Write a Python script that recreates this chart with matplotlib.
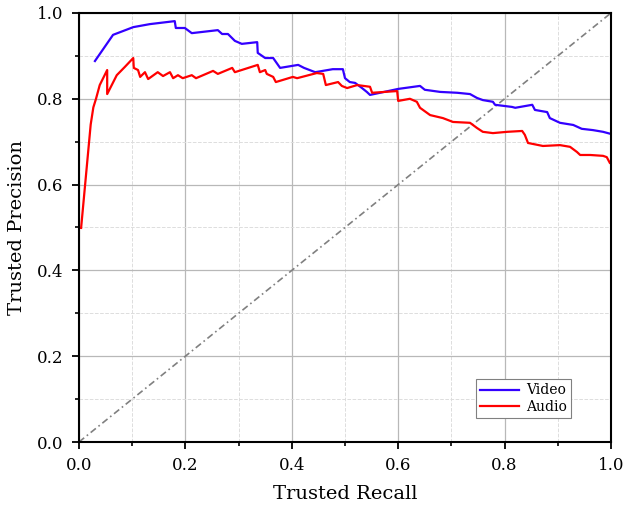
import matplotlib
matplotlib.use('Agg')
import matplotlib.pyplot as plt
from matplotlib.ticker import MultipleLocator

plt.rcParams['font.family'] = ['DejaVu Serif']

# video curve (recall, precision)
video_r = [0.030, 0.064, 0.102, 0.133, 0.180, 0.182, 0.199, 0.212, 0.261, 0.269, 0.280, 0.293,
           0.306, 0.335, 0.336, 0.350, 0.365, 0.378, 0.412, 0.423, 0.444, 0.477, 0.496, 0.500,
           0.509, 0.519, 0.532, 0.541, 0.547, 0.600, 0.641, 0.650, 0.679, 0.711, 0.735, 0.748,
           0.759, 0.778, 0.782, 0.814, 0.820, 0.852, 0.857, 0.880, 0.885, 0.904, 0.929, 0.945,
           0.966, 0.985, 1.000]
video_p = [0.888, 0.949, 0.967, 0.974, 0.981, 0.965, 0.965, 0.953, 0.960, 0.951, 0.951, 0.935,
           0.928, 0.932, 0.907, 0.895, 0.895, 0.872, 0.879, 0.872, 0.862, 0.869, 0.869, 0.848,
           0.839, 0.837, 0.825, 0.816, 0.809, 0.823, 0.830, 0.821, 0.816, 0.814, 0.811, 0.802,
           0.797, 0.793, 0.786, 0.781, 0.779, 0.786, 0.774, 0.769, 0.755, 0.744, 0.739, 0.730,
           0.727, 0.723, 0.718]

# audio curve
audio_r = [0.004, 0.022, 0.027, 0.032, 0.039, 0.053, 0.053, 0.071, 0.086, 0.102, 0.103,
           0.111, 0.115, 0.124, 0.130, 0.148, 0.158, 0.171, 0.177, 0.186, 0.195, 0.212, 0.220,
           0.252, 0.261, 0.288, 0.293, 0.336, 0.340, 0.350, 0.353, 0.365, 0.370, 0.402, 0.410,
           0.447, 0.459, 0.464, 0.487, 0.494, 0.504, 0.523, 0.547, 0.551, 0.598, 0.600, 0.622,
           0.635, 0.641, 0.660, 0.684, 0.703, 0.735, 0.748, 0.759, 0.778, 0.805, 0.833, 0.838,
           0.844, 0.872, 0.904, 0.923, 0.936, 0.942, 0.961, 0.985, 0.992, 0.998, 1.000]
audio_p = [0.499, 0.740, 0.780, 0.800, 0.832, 0.867, 0.811, 0.855, 0.874, 0.895, 0.872,
           0.867, 0.851, 0.862, 0.846, 0.862, 0.853, 0.862, 0.848, 0.855, 0.848, 0.855, 0.848,
           0.865, 0.858, 0.872, 0.862, 0.879, 0.862, 0.867, 0.858, 0.851, 0.839, 0.851, 0.848,
           0.860, 0.858, 0.832, 0.839, 0.830, 0.825, 0.832, 0.828, 0.814, 0.818, 0.795, 0.800,
           0.793, 0.779, 0.762, 0.755, 0.746, 0.744, 0.732, 0.723, 0.720, 0.723, 0.725, 0.716,
           0.697, 0.690, 0.692, 0.688, 0.676, 0.669, 0.669, 0.667, 0.664, 0.650, 0.650]

diag = [0, 1]

fig = plt.figure(figsize=(6.38, 5.07), dpi=100)
ax = fig.add_axes([0.1238, 0.1282, 0.8339, 0.8462])

ax.plot(diag, diag, color='#808080', linestyle=(0, (4, 2, 1, 2)), linewidth=1.2)
ax.plot(video_r, video_p, color='#3300ff', linewidth=1.6, label='Video')
ax.plot(audio_r, audio_p, color='#ff0000', linewidth=1.6, label='Audio')

ax.set_xlim(0, 1)
ax.set_ylim(0, 1)
ax.xaxis.set_major_locator(MultipleLocator(0.2))
ax.yaxis.set_major_locator(MultipleLocator(0.2))
ax.xaxis.set_minor_locator(MultipleLocator(0.1))
ax.yaxis.set_minor_locator(MultipleLocator(0.1))
ax.grid(True, which='major', color='#b8b8b8', linewidth=0.9)
ax.grid(True, which='minor', color='#dddddd', linestyle='--', linewidth=0.7)
ax.set_axisbelow(True)

ax.tick_params(which='major', direction='out', length=5, width=1.3, labelsize=12, pad=6)
ax.tick_params(which='minor', direction='out', length=3, width=1.2)
for s in ax.spines.values():
    s.set_linewidth(1.5)

ax.set_xlabel('Trusted Recall', fontsize=14, labelpad=8)
ax.set_ylabel('Trusted Precision', fontsize=14, labelpad=8)

leg = ax.legend(loc='lower right', bbox_to_anchor=(0.925, 0.055), borderaxespad=0,
                fontsize=10, fancybox=False, framealpha=1, edgecolor='gray',
                handlelength=2.8, borderpad=0.3, labelspacing=0.2, handletextpad=0.5)
leg.get_frame().set_linewidth(0.8)

fig.savefig('out.png', dpi=100)
